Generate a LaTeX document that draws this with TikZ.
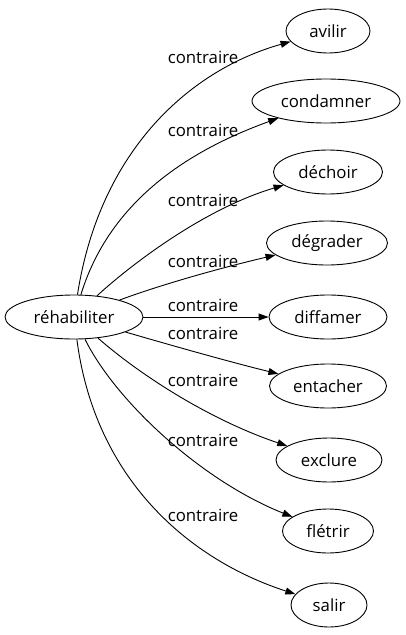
\documentclass[tikz,border=0pt]{standalone}
\usepackage{fontspec}
\setmainfont{Open Sans}
\usetikzlibrary{shapes.geometric,arrows.meta}
\tikzset{
  wnode/.style={draw,ellipse,inner sep=0pt,minimum height=44pt,line width=0.9pt,font=\fontsize{16.8}{20}\selectfont},
  rel/.style={line width=0.9pt,-{Triangle[length=10pt,width=7pt]}},
  lab/.style={font=\fontsize{16.8}{20}\selectfont,inner sep=0pt}
}
\begin{document}
\begin{tikzpicture}[x=1pt,y=-1pt]
\useasboundingbox (0,0) rectangle (406,635);
\node[wnode,minimum width=138pt] (c) at (74,317) {réhabiliter};
\node[wnode,minimum width=84pt] (n1) at (328,31) {avilir};
\node[wnode,minimum width=148pt] (n2) at (326,101) {condamner};
\node[wnode,minimum width=109pt] (n3) at (328,172) {déchoir};
\node[wnode,minimum width=121pt] (n4) at (327,243) {dégrader};
\node[wnode,minimum width=118pt] (n5) at (328,317) {diffamer};
\node[wnode,minimum width=117pt] (n6) at (328,386) {entacher};
\node[wnode,minimum width=106pt] (n7) at (329,460) {exclure};
\node[wnode,minimum width=91pt] (n8) at (328,531) {flétrir};
\node[wnode,minimum width=76pt] (n9) at (329,605) {salir};

\draw[rel] (c) .. controls (100,150) and (190,70) .. (n1);
\draw[rel] (c) .. controls (110,200) and (190,150) .. (n2);
\draw[rel] (c) .. controls (125,270) and (200,210) .. (n3);
\draw[rel] (c) .. controls (160,285) and (220,268) .. (n4);
\draw[rel] (c) -- (n5);
\draw[rel] (c) .. controls (170,345) and (230,362) .. (n6);
\draw[rel] (c) .. controls (140,375) and (210,420) .. (n7);
\draw[rel] (c) .. controls (115,400) and (200,480) .. (n8);
\draw[rel] (c) .. controls (95,480) and (190,560) .. (n9);

\node[lab] (l1) at (203,57) {contraire};
\node[lab] (l2) at (203,130) {contraire};
\node[lab] (l3) at (203,200) {contraire};
\node[lab] (l4) at (203,261) {contraire};
\node[lab] (l5) at (203,305) {contraire};
\node[lab] (l6) at (203,333) {contraire};
\node[lab] (l7) at (203,380) {contraire};
\node[lab] (l8) at (203,440) {contraire};
\node[lab] (l9) at (203,515) {contraire};
\end{tikzpicture}
\end{document}
